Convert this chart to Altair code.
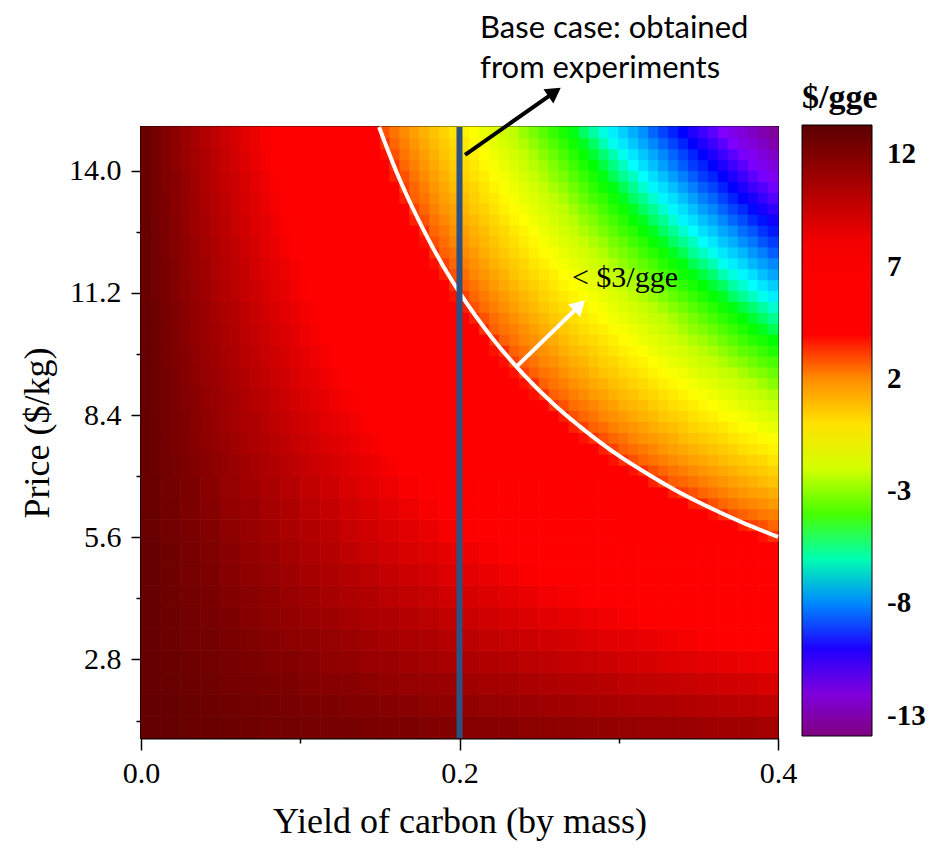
import altair as alt
import pandas as pd

# ---------------- data ----------------
# coarse cell edges of the cost map (whole plot)
X_EDGES = [0.0, 0.0125, 0.025, 0.0375, 0.05, 0.0625, 0.075, 0.0875, 0.1, 0.1125, 0.125,
           0.1375, 0.15, 0.1625, 0.175, 0.1875, 0.2, 0.2125, 0.225, 0.2375, 0.25, 0.2625,
           0.275, 0.2875, 0.3, 0.3125, 0.325, 0.3375, 0.35, 0.3625, 0.375, 0.3875, 0.4]
Y_EDGES = [1.0, 1.5, 2.0, 2.5, 3.0, 3.5, 4.0, 4.5, 5.0, 5.5, 6.0, 6.5, 7.0, 7.5, 8.0, 8.5,
           9.0, 9.5, 10.0, 10.5, 11.0, 11.5, 12.0, 12.5, 13.0, 13.5, 14.0, 14.5, 15.0]

# cost ($/gge), one row per price band (bottom row first), one value per yield band
Z = [
    [13.0,12.9,12.8,12.8,12.7,12.6,12.5,12.5,12.4,12.3,12.3,12.2,12.1,12.1,12.0,11.9,11.8,11.8,11.7,11.6,11.6,11.5,11.4,11.4,11.3,11.2,11.2,11.1,11.0,10.9,10.9,10.8],
    [13.0,12.9,12.8,12.7,12.6,12.5,12.4,12.3,12.2,12.1,12.0,11.9,11.8,11.7,11.6,11.5,11.4,11.3,11.2,11.1,11.0,10.9,10.8,10.7,10.6,10.5,10.4,10.3,10.2,10.1,10.0,9.9],
    [12.9,12.8,12.7,12.6,12.4,12.3,12.2,12.1,11.9,11.8,11.7,11.6,11.4,11.3,11.2,11.1,10.9,10.8,10.7,10.6,10.4,10.3,10.2,10.1,9.9,9.8,9.7,9.6,9.4,9.3,9.2,9.0],
    [12.9,12.8,12.6,12.5,12.3,12.2,12.0,11.9,11.7,11.5,11.4,11.2,11.1,10.9,10.8,10.6,10.5,10.3,10.2,10.0,9.9,9.7,9.6,9.4,9.2,9.1,8.9,8.8,8.6,8.5,8.3,8.2],
    [12.9,12.7,12.5,12.4,12.2,12.0,11.8,11.6,11.5,11.3,11.1,10.9,10.7,10.6,10.4,10.2,10.0,9.8,9.6,9.5,9.3,9.1,8.9,8.7,8.6,8.4,8.2,8.0,7.8,7.7,7.5,7.3],
    [12.9,12.7,12.5,12.3,12.1,11.8,11.6,11.4,11.2,11.0,10.8,10.6,10.4,10.2,10.0,9.8,9.5,9.3,9.1,8.9,8.7,8.5,8.3,8.1,7.9,7.7,7.5,7.2,7.0,6.8,6.6,6.4],
    [12.9,12.6,12.4,12.2,11.9,11.7,11.5,11.2,11.0,10.7,10.5,10.3,10.0,9.8,9.6,9.3,9.1,8.9,8.6,8.4,8.1,7.9,7.7,7.4,7.2,7.0,6.7,6.5,6.2,6.0,5.8,5.5],
    [12.9,12.6,12.3,12.1,11.8,11.5,11.3,11.0,10.7,10.5,10.2,10.0,9.7,9.4,9.2,8.9,8.6,8.4,8.1,7.8,7.6,7.3,7.0,6.8,6.5,6.2,6.0,5.7,5.5,5.2,4.9,4.7],
    [12.9,12.6,12.3,12.0,11.7,11.4,11.1,10.8,10.5,10.2,9.9,9.6,9.3,9.0,8.8,8.5,8.2,7.9,7.6,7.3,7.0,6.7,6.4,6.1,5.8,5.5,5.2,5.0,4.7,4.4,4.1,3.8],
    [12.8,12.5,12.2,11.9,11.6,11.2,10.9,10.6,10.3,10.0,9.6,9.3,9.0,8.7,8.4,8.0,7.7,7.4,7.1,6.7,6.4,6.1,5.8,5.5,5.1,4.8,4.5,4.2,3.9,3.5,3.2,2.9],
    [12.8,12.5,12.1,11.8,11.4,11.1,10.7,10.4,10.0,9.7,9.3,9.0,8.6,8.3,7.9,7.6,7.3,6.9,6.6,6.2,5.9,5.5,5.2,4.8,4.5,4.1,3.8,3.4,3.1,2.7,2.4,2.0],
    [12.8,12.4,12.1,11.7,11.3,10.9,10.6,10.2,9.8,9.4,9.0,8.7,8.3,7.9,7.5,7.2,6.8,6.4,6.0,5.7,5.3,4.9,4.5,4.2,3.8,3.4,3.0,2.7,2.3,1.9,1.5,1.1],
    [12.8,12.4,12.0,11.6,11.2,10.8,10.4,10.0,9.6,9.2,8.8,8.4,7.9,7.5,7.1,6.7,6.3,5.9,5.5,5.1,4.7,4.3,3.9,3.5,3.1,2.7,2.3,1.9,1.5,1.1,0.7,0.3],
    [12.8,12.4,11.9,11.5,11.1,10.6,10.2,9.8,9.3,8.9,8.5,8.0,7.6,7.2,6.7,6.3,5.9,5.4,5.0,4.6,4.1,3.7,3.3,2.8,2.4,2.0,1.5,1.1,0.7,0.3,-0.2,-0.6],
    [12.8,12.3,11.9,11.4,10.9,10.5,10.0,9.6,9.1,8.6,8.2,7.7,7.3,6.8,6.3,5.9,5.4,5.0,4.5,4.0,3.6,3.1,2.7,2.2,1.7,1.3,0.8,0.4,-0.1,-0.6,-1.0,-1.5],
    [12.8,12.3,11.8,11.3,10.8,10.3,9.8,9.3,8.9,8.4,7.9,7.4,6.9,6.4,5.9,5.4,5.0,4.5,4.0,3.5,3.0,2.5,2.0,1.5,1.0,0.6,0.1,-0.4,-0.9,-1.4,-1.9,-2.4],
    [12.7,12.2,11.7,11.2,10.7,10.2,9.6,9.1,8.6,8.1,7.6,7.1,6.6,6.0,5.5,5.0,4.5,4.0,3.5,2.9,2.4,1.9,1.4,0.9,0.4,-0.2,-0.7,-1.2,-1.7,-2.2,-2.7,-3.2],
    [12.7,12.2,11.6,11.1,10.6,10.0,9.5,8.9,8.4,7.8,7.3,6.7,6.2,5.7,5.1,4.6,4.0,3.5,2.9,2.4,1.9,1.3,0.8,0.2,-0.3,-0.9,-1.4,-1.9,-2.5,-3.0,-3.6,-4.1],
    [12.7,12.1,11.6,11.0,10.4,9.9,9.3,8.7,8.1,7.6,7.0,6.4,5.9,5.3,4.7,4.1,3.6,3.0,2.4,1.9,1.3,0.7,0.1,-0.4,-1.0,-1.6,-2.1,-2.7,-3.3,-3.9,-4.4,-5.0],
    [12.7,12.1,11.5,10.9,10.3,9.7,9.1,8.5,7.9,7.3,6.7,6.1,5.5,4.9,4.3,3.7,3.1,2.5,1.9,1.3,0.7,0.1,-0.5,-1.1,-1.7,-2.3,-2.9,-3.5,-4.1,-4.7,-5.3,-5.9],
    [12.7,12.1,11.4,10.8,10.2,9.6,8.9,8.3,7.7,7.0,6.4,5.8,5.2,4.5,3.9,3.3,2.7,2.0,1.4,0.8,0.1,-0.5,-1.1,-1.7,-2.4,-3.0,-3.6,-4.2,-4.9,-5.5,-6.1,-6.8],
    [12.7,12.0,11.4,10.7,10.1,9.4,8.7,8.1,7.4,6.8,6.1,5.5,4.8,4.2,3.5,2.8,2.2,1.5,0.9,0.2,-0.4,-1.1,-1.7,-2.4,-3.0,-3.7,-4.4,-5.0,-5.7,-6.3,-7.0,-7.6],
    [12.7,12.0,11.3,10.6,9.9,9.2,8.6,7.9,7.2,6.5,5.8,5.1,4.5,3.8,3.1,2.4,1.7,1.0,0.4,-0.3,-1.0,-1.7,-2.4,-3.0,-3.7,-4.4,-5.1,-5.8,-6.5,-7.1,-7.8,-8.5],
    [12.6,11.9,11.2,10.5,9.8,9.1,8.4,7.7,7.0,6.2,5.5,4.8,4.1,3.4,2.7,2.0,1.3,0.6,-0.1,-0.9,-1.6,-2.3,-3.0,-3.7,-4.4,-5.1,-5.8,-6.5,-7.3,-8.0,-8.7,-9.4],
    [12.6,11.9,11.2,10.4,9.7,8.9,8.2,7.5,6.7,6.0,5.2,4.5,3.8,3.0,2.3,1.6,0.8,0.1,-0.7,-1.4,-2.1,-2.9,-3.6,-4.4,-5.1,-5.8,-6.6,-7.3,-8.1,-8.8,-9.5,-10.3],
    [12.6,11.9,11.1,10.3,9.6,8.8,8.0,7.3,6.5,5.7,5.0,4.2,3.4,2.7,1.9,1.1,0.4,-0.4,-1.2,-1.9,-2.7,-3.5,-4.2,-5.0,-5.8,-6.5,-7.3,-8.1,-8.8,-9.6,-10.4,-11.1],
    [12.6,11.8,11.0,10.2,9.4,8.6,7.8,7.0,6.2,5.5,4.7,3.9,3.1,2.3,1.5,0.7,-0.1,-0.9,-1.7,-2.5,-3.3,-4.1,-4.9,-5.7,-6.5,-7.3,-8.1,-8.8,-9.6,-10.4,-11.2,-12.0],
    [12.6,11.8,10.9,10.1,9.3,8.5,7.7,6.8,6.0,5.2,4.4,3.5,2.7,1.9,1.1,0.3,-0.6,-1.4,-2.2,-3.0,-3.9,-4.7,-5.5,-6.3,-7.1,-8.0,-8.8,-9.6,-10.4,-11.3,-12.1,-12.9],
]

# finer reading of the rainbow corner (yield 0.15-0.40, price 7-15)
XF_EDGES = [0.15, 0.15625, 0.1625, 0.16875, 0.175, 0.18125, 0.1875, 0.19375, 0.2, 0.20625,
            0.2125, 0.21875, 0.225, 0.23125, 0.2375, 0.24375, 0.25, 0.25625, 0.2625, 0.26875,
            0.275, 0.28125, 0.2875, 0.29375, 0.3, 0.30625, 0.3125, 0.31875, 0.325, 0.33125,
            0.3375, 0.34375, 0.35, 0.35625, 0.3625, 0.36875, 0.375, 0.38125, 0.3875, 0.39375, 0.4]
YF_EDGES = [7.0, 7.25, 7.5, 7.75, 8.0, 8.25, 8.5, 8.75, 9.0, 9.25, 9.5, 9.75, 10.0, 10.25,
            10.5, 10.75, 11.0, 11.25, 11.5, 11.75, 12.0, 12.25, 12.5, 12.75, 13.0, 13.25,
            13.5, 13.75, 14.0, 14.25, 14.5, 14.75, 15.0]
ZF = [
    [8.1,7.9,7.7,7.5,7.3,7.1,6.9,6.7,6.5,6.3,6.1,5.9,5.8,5.6,5.4,5.2,5.0,4.8,4.6,4.4,4.2,4.0,3.8,3.6,3.4,3.2,3.0,2.8,2.6,2.4,2.2,2.0,1.8,1.6,1.4,1.2,1.0,0.8,0.6,0.4],
    [8.0,7.8,7.6,7.3,7.1,6.9,6.7,6.5,6.3,6.1,5.9,5.7,5.5,5.3,5.1,4.9,4.7,4.5,4.3,4.1,3.9,3.6,3.4,3.2,3.0,2.8,2.6,2.4,2.2,2.0,1.8,1.6,1.4,1.2,1.0,0.8,0.6,0.4,0.2,-0.1],
    [7.8,7.6,7.4,7.2,6.9,6.7,6.5,6.3,6.1,5.9,5.7,5.5,5.2,5.0,4.8,4.6,4.4,4.2,4.0,3.8,3.5,3.3,3.1,2.9,2.7,2.5,2.3,2.1,1.8,1.6,1.4,1.2,1.0,0.8,0.6,0.4,0.1,-0.1,-0.3,-0.5],
    [7.6,7.4,7.2,7.0,6.7,6.5,6.3,6.1,5.9,5.6,5.4,5.2,5.0,4.8,4.5,4.3,4.1,3.9,3.7,3.5,3.2,3.0,2.8,2.6,2.4,2.1,1.9,1.7,1.5,1.3,1.0,0.8,0.6,0.4,0.2,-0.1,-0.3,-0.5,-0.7,-0.9],
    [7.5,7.2,7.0,6.8,6.5,6.3,6.1,5.9,5.6,5.4,5.2,5.0,4.7,4.5,4.3,4.1,3.8,3.6,3.4,3.1,2.9,2.7,2.5,2.2,2.0,1.8,1.6,1.3,1.1,0.9,0.7,0.4,0.2,0.0,-0.2,-0.5,-0.7,-0.9,-1.2,-1.4],
    [7.3,7.0,6.8,6.6,6.3,6.1,5.9,5.6,5.4,5.2,4.9,4.7,4.5,4.2,4.0,3.8,3.5,3.3,3.1,2.8,2.6,2.4,2.1,1.9,1.7,1.4,1.2,1.0,0.7,0.5,0.3,0.0,-0.2,-0.4,-0.7,-0.9,-1.1,-1.4,-1.6,-1.8],
    [7.1,6.9,6.6,6.4,6.1,5.9,5.7,5.4,5.2,4.9,4.7,4.5,4.2,4.0,3.7,3.5,3.3,3.0,2.8,2.5,2.3,2.1,1.8,1.6,1.3,1.1,0.9,0.6,0.4,0.1,-0.1,-0.3,-0.6,-0.8,-1.1,-1.3,-1.5,-1.8,-2.0,-2.3],
    [6.9,6.7,6.4,6.2,5.9,5.7,5.5,5.2,5.0,4.7,4.5,4.2,4.0,3.7,3.5,3.2,3.0,2.7,2.5,2.2,2.0,1.7,1.5,1.2,1.0,0.8,0.5,0.3,0.0,-0.2,-0.5,-0.7,-1.0,-1.2,-1.5,-1.7,-2.0,-2.2,-2.5,-2.7],
    [6.8,6.5,6.3,6.0,5.8,5.5,5.2,5.0,4.7,4.5,4.2,4.0,3.7,3.5,3.2,3.0,2.7,2.4,2.2,1.9,1.7,1.4,1.2,0.9,0.7,0.4,0.2,-0.1,-0.4,-0.6,-0.9,-1.1,-1.4,-1.6,-1.9,-2.1,-2.4,-2.6,-2.9,-3.2],
    [6.6,6.3,6.1,5.8,5.6,5.3,5.0,4.8,4.5,4.2,4.0,3.7,3.5,3.2,2.9,2.7,2.4,2.2,1.9,1.6,1.4,1.1,0.8,0.6,0.3,0.1,-0.2,-0.5,-0.7,-1.0,-1.2,-1.5,-1.8,-2.0,-2.3,-2.5,-2.8,-3.1,-3.3,-3.6],
    [6.4,6.2,5.9,5.6,5.4,5.1,4.8,4.5,4.3,4.0,3.7,3.5,3.2,2.9,2.7,2.4,2.1,1.9,1.6,1.3,1.1,0.8,0.5,0.3,0.0,-0.3,-0.5,-0.8,-1.1,-1.4,-1.6,-1.9,-2.2,-2.4,-2.7,-3.0,-3.2,-3.5,-3.8,-4.0],
    [6.3,6.0,5.7,5.4,5.2,4.9,4.6,4.3,4.1,3.8,3.5,3.2,3.0,2.7,2.4,2.1,1.9,1.6,1.3,1.0,0.8,0.5,0.2,-0.1,-0.4,-0.6,-0.9,-1.2,-1.5,-1.7,-2.0,-2.3,-2.6,-2.8,-3.1,-3.4,-3.7,-3.9,-4.2,-4.5],
    [6.1,5.8,5.5,5.2,5.0,4.7,4.4,4.1,3.8,3.5,3.3,3.0,2.7,2.4,2.1,1.9,1.6,1.3,1.0,0.7,0.4,0.2,-0.1,-0.4,-0.7,-1.0,-1.3,-1.5,-1.8,-2.1,-2.4,-2.7,-2.9,-3.2,-3.5,-3.8,-4.1,-4.4,-4.6,-4.9],
    [5.9,5.6,5.3,5.0,4.8,4.5,4.2,3.9,3.6,3.3,3.0,2.7,2.4,2.2,1.9,1.6,1.3,1.0,0.7,0.4,0.1,-0.2,-0.4,-0.7,-1.0,-1.3,-1.6,-1.9,-2.2,-2.5,-2.8,-3.1,-3.3,-3.6,-3.9,-4.2,-4.5,-4.8,-5.1,-5.4],
    [5.7,5.4,5.2,4.9,4.6,4.3,4.0,3.7,3.4,3.1,2.8,2.5,2.2,1.9,1.6,1.3,1.0,0.7,0.4,0.1,-0.2,-0.5,-0.8,-1.1,-1.4,-1.7,-2.0,-2.3,-2.5,-2.8,-3.1,-3.4,-3.7,-4.0,-4.3,-4.6,-4.9,-5.2,-5.5,-5.8],
    [5.6,5.3,5.0,4.7,4.4,4.1,3.8,3.5,3.1,2.8,2.5,2.2,1.9,1.6,1.3,1.0,0.7,0.4,0.1,-0.2,-0.5,-0.8,-1.1,-1.4,-1.7,-2.0,-2.3,-2.6,-2.9,-3.2,-3.5,-3.8,-4.1,-4.4,-4.7,-5.0,-5.3,-5.6,-5.9,-6.2],
    [5.4,5.1,4.8,4.5,4.2,3.9,3.5,3.2,2.9,2.6,2.3,2.0,1.7,1.4,1.1,0.8,0.4,0.1,-0.2,-0.5,-0.8,-1.1,-1.4,-1.7,-2.0,-2.4,-2.7,-3.0,-3.3,-3.6,-3.9,-4.2,-4.5,-4.8,-5.1,-5.5,-5.8,-6.1,-6.4,-6.7],
    [5.2,4.9,4.6,4.3,4.0,3.6,3.3,3.0,2.7,2.4,2.1,1.7,1.4,1.1,0.8,0.5,0.2,-0.2,-0.5,-0.8,-1.1,-1.4,-1.7,-2.1,-2.4,-2.7,-3.0,-3.3,-3.6,-4.0,-4.3,-4.6,-4.9,-5.2,-5.5,-5.9,-6.2,-6.5,-6.8,-7.1],
    [5.1,4.7,4.4,4.1,3.8,3.4,3.1,2.8,2.5,2.1,1.8,1.5,1.2,0.8,0.5,0.2,-0.1,-0.4,-0.8,-1.1,-1.4,-1.7,-2.1,-2.4,-2.7,-3.0,-3.4,-3.7,-4.0,-4.3,-4.7,-5.0,-5.3,-5.6,-6.0,-6.3,-6.6,-6.9,-7.3,-7.6],
    [4.9,4.6,4.2,3.9,3.6,3.2,2.9,2.6,2.2,1.9,1.6,1.2,0.9,0.6,0.3,-0.1,-0.4,-0.7,-1.1,-1.4,-1.7,-2.1,-2.4,-2.7,-3.1,-3.4,-3.7,-4.0,-4.4,-4.7,-5.0,-5.4,-5.7,-6.0,-6.4,-6.7,-7.0,-7.4,-7.7,-8.0],
    [4.7,4.4,4.0,3.7,3.4,3.0,2.7,2.4,2.0,1.7,1.3,1.0,0.7,0.3,0.0,-0.4,-0.7,-1.0,-1.4,-1.7,-2.0,-2.4,-2.7,-3.1,-3.4,-3.7,-4.1,-4.4,-4.7,-5.1,-5.4,-5.8,-6.1,-6.4,-6.8,-7.1,-7.4,-7.8,-8.1,-8.5],
    [4.5,4.2,3.9,3.5,3.2,2.8,2.5,2.1,1.8,1.4,1.1,0.8,0.4,0.1,-0.3,-0.6,-1.0,-1.3,-1.7,-2.0,-2.3,-2.7,-3.0,-3.4,-3.7,-4.1,-4.4,-4.8,-5.1,-5.5,-5.8,-6.1,-6.5,-6.8,-7.2,-7.5,-7.9,-8.2,-8.6,-8.9],
    [4.4,4.0,3.7,3.3,3.0,2.6,2.3,1.9,1.6,1.2,0.9,0.5,0.2,-0.2,-0.5,-0.9,-1.3,-1.6,-2.0,-2.3,-2.7,-3.0,-3.4,-3.7,-4.1,-4.4,-4.8,-5.1,-5.5,-5.8,-6.2,-6.5,-6.9,-7.2,-7.6,-7.9,-8.3,-8.6,-9.0,-9.3],
    [4.2,3.8,3.5,3.1,2.8,2.4,2.1,1.7,1.3,1.0,0.6,0.3,-0.1,-0.5,-0.8,-1.2,-1.5,-1.9,-2.3,-2.6,-3.0,-3.3,-3.7,-4.0,-4.4,-4.8,-5.1,-5.5,-5.8,-6.2,-6.6,-6.9,-7.3,-7.6,-8.0,-8.4,-8.7,-9.1,-9.4,-9.8],
    [4.0,3.7,3.3,2.9,2.6,2.2,1.8,1.5,1.1,0.7,0.4,0.0,-0.4,-0.7,-1.1,-1.5,-1.8,-2.2,-2.5,-2.9,-3.3,-3.6,-4.0,-4.4,-4.7,-5.1,-5.5,-5.8,-6.2,-6.6,-6.9,-7.3,-7.7,-8.0,-8.4,-8.8,-9.1,-9.5,-9.9,-10.2],
    [3.9,3.5,3.1,2.7,2.4,2.0,1.6,1.3,0.9,0.5,0.1,-0.2,-0.6,-1.0,-1.4,-1.7,-2.1,-2.5,-2.8,-3.2,-3.6,-4.0,-4.3,-4.7,-5.1,-5.5,-5.8,-6.2,-6.6,-6.9,-7.3,-7.7,-8.1,-8.4,-8.8,-9.2,-9.6,-9.9,-10.3,-10.7],
    [3.7,3.3,2.9,2.6,2.2,1.8,1.4,1.0,0.7,0.3,-0.1,-0.5,-0.9,-1.2,-1.6,-2.0,-2.4,-2.8,-3.1,-3.5,-3.9,-4.3,-4.7,-5.0,-5.4,-5.8,-6.2,-6.6,-6.9,-7.3,-7.7,-8.1,-8.5,-8.8,-9.2,-9.6,-10.0,-10.4,-10.7,-11.1],
    [3.5,3.1,2.8,2.4,2.0,1.6,1.2,0.8,0.4,0.0,-0.3,-0.7,-1.1,-1.5,-1.9,-2.3,-2.7,-3.1,-3.4,-3.8,-4.2,-4.6,-5.0,-5.4,-5.8,-6.1,-6.5,-6.9,-7.3,-7.7,-8.1,-8.5,-8.9,-9.2,-9.6,-10.0,-10.4,-10.8,-11.2,-11.6],
    [3.4,3.0,2.6,2.2,1.8,1.4,1.0,0.6,0.2,-0.2,-0.6,-1.0,-1.4,-1.8,-2.2,-2.6,-2.9,-3.3,-3.7,-4.1,-4.5,-4.9,-5.3,-5.7,-6.1,-6.5,-6.9,-7.3,-7.7,-8.1,-8.5,-8.9,-9.2,-9.6,-10.0,-10.4,-10.8,-11.2,-11.6,-12.0],
    [3.2,2.8,2.4,2.0,1.6,1.2,0.8,0.4,0.0,-0.4,-0.8,-1.2,-1.6,-2.0,-2.4,-2.8,-3.2,-3.6,-4.0,-4.4,-4.8,-5.2,-5.6,-6.0,-6.4,-6.8,-7.2,-7.6,-8.0,-8.4,-8.8,-9.2,-9.6,-10.0,-10.4,-10.8,-11.2,-11.6,-12.0,-12.4],
    [3.0,2.6,2.2,1.8,1.4,1.0,0.6,0.2,-0.2,-0.7,-1.1,-1.5,-1.9,-2.3,-2.7,-3.1,-3.5,-3.9,-4.3,-4.7,-5.1,-5.5,-6.0,-6.4,-6.8,-7.2,-7.6,-8.0,-8.4,-8.8,-9.2,-9.6,-10.0,-10.4,-10.8,-11.3,-11.7,-12.1,-12.5,-12.9],
    [2.8,2.4,2.0,1.6,1.2,0.8,0.4,-0.1,-0.5,-0.9,-1.3,-1.7,-2.1,-2.5,-3.0,-3.4,-3.8,-4.2,-4.6,-5.0,-5.5,-5.9,-6.3,-6.7,-7.1,-7.5,-7.9,-8.4,-8.8,-9.2,-9.6,-10.0,-10.4,-10.8,-11.3,-11.7,-12.1,-12.5,-12.9,-13.3],
]

# finer reading of the orange strip at the right edge (yield 0.30-0.40, price 5.5-7)
XF2_EDGES = [0.3, 0.30625, 0.3125, 0.31875, 0.325, 0.33125, 0.3375, 0.34375, 0.35, 0.35625,
             0.3625, 0.36875, 0.375, 0.38125, 0.3875, 0.39375, 0.4]
YF2_EDGES = [5.5, 5.75, 6.0, 6.25, 6.5, 6.75, 7.0]
ZF2 = [
    [5.4,5.2,5.1,4.9,4.8,4.6,4.5,4.3,4.1,4.0,3.8,3.7,3.5,3.4,3.2,3.0],
    [5.1,4.9,4.7,4.6,4.4,4.2,4.1,3.9,3.7,3.6,3.4,3.3,3.1,2.9,2.8,2.6],
    [4.7,4.5,4.4,4.2,4.0,3.9,3.7,3.5,3.4,3.2,3.0,2.8,2.7,2.5,2.3,2.2],
    [4.4,4.2,4.0,3.8,3.7,3.5,3.3,3.1,3.0,2.8,2.6,2.4,2.2,2.1,1.9,1.7],
    [4.0,3.9,3.7,3.5,3.3,3.1,2.9,2.8,2.6,2.4,2.2,2.0,1.8,1.6,1.5,1.3],
    [3.7,3.5,3.3,3.1,2.9,2.7,2.6,2.4,2.2,2.0,1.8,1.6,1.4,1.2,1.0,0.8],
]

# finer reading (in yield) of the dark-red upper left (yield 0-0.15, price 7-15)
XF3_EDGES = [0.0, 0.00625, 0.0125, 0.01875, 0.025, 0.03125, 0.0375, 0.04375, 0.05, 0.05625,
             0.0625, 0.06875, 0.075, 0.08125, 0.0875, 0.09375, 0.1, 0.10625, 0.1125, 0.11875,
             0.125, 0.13125, 0.1375, 0.14375, 0.15]
YF3_EDGES = [7.0, 7.5, 8.0, 8.5, 9.0, 9.5, 10.0, 10.5, 11.0, 11.5, 12.0, 12.5, 13.0, 13.5,
             14.0, 14.5, 15.0]
ZF3 = [
    [12.9,12.7,12.5,12.3,12.1,11.9,11.7,11.5,11.3,11.1,10.9,10.7,10.5,10.3,10.1,9.9,9.7,9.5,9.3,9.1,8.9,8.7,8.5,8.3],
    [12.9,12.7,12.5,12.2,12.0,11.8,11.6,11.4,11.2,10.9,10.7,10.5,10.3,10.1,9.9,9.7,9.4,9.2,9.0,8.8,8.6,8.4,8.1,7.9],
    [12.9,12.7,12.4,12.2,12.0,11.7,11.5,11.3,11.0,10.8,10.6,10.4,10.1,9.9,9.7,9.4,9.2,9.0,8.7,8.5,8.3,8.1,7.8,7.6],
    [12.9,12.6,12.4,12.1,11.9,11.7,11.4,11.2,10.9,10.7,10.4,10.2,10.0,9.7,9.5,9.2,9.0,8.7,8.5,8.2,8.0,7.8,7.5,7.3],
    [12.9,12.6,12.4,12.1,11.8,11.6,11.3,11.1,10.8,10.6,10.3,10.0,9.8,9.5,9.3,9.0,8.7,8.5,8.2,8.0,7.7,7.5,7.2,6.9],
    [12.9,12.6,12.3,12.0,11.8,11.5,11.2,11.0,10.7,10.4,10.1,9.9,9.6,9.3,9.1,8.8,8.5,8.2,8.0,7.7,7.4,7.2,6.9,6.6],
    [12.9,12.6,12.3,12.0,11.7,11.4,11.1,10.9,10.6,10.3,10.0,9.7,9.4,9.1,8.9,8.6,8.3,8.0,7.7,7.4,7.1,6.9,6.6,6.3],
    [12.9,12.6,12.3,12.0,11.7,11.4,11.1,10.8,10.5,10.2,9.9,9.6,9.3,9.0,8.7,8.4,8.1,7.8,7.5,7.2,6.9,6.6,6.3,6.0],
    [12.8,12.5,12.2,11.9,11.6,11.3,11.0,10.6,10.3,10.0,9.7,9.4,9.1,8.8,8.5,8.1,7.8,7.5,7.2,6.9,6.6,6.3,5.9,5.6],
    [12.8,12.5,12.2,11.9,11.5,11.2,10.9,10.5,10.2,9.9,9.6,9.2,8.9,8.6,8.3,7.9,7.6,7.3,6.9,6.6,6.3,6.0,5.6,5.3],
    [12.8,12.5,12.1,11.8,11.5,11.1,10.8,10.4,10.1,9.8,9.4,9.1,8.7,8.4,8.0,7.7,7.4,7.0,6.7,6.3,6.0,5.7,5.3,5.0],
    [12.8,12.5,12.1,11.8,11.4,11.0,10.7,10.3,10.0,9.6,9.3,8.9,8.6,8.2,7.8,7.5,7.1,6.8,6.4,6.1,5.7,5.4,5.0,4.6],
    [12.8,12.4,12.1,11.7,11.3,11.0,10.6,10.2,9.9,9.5,9.1,8.8,8.4,8.0,7.6,7.3,6.9,6.5,6.2,5.8,5.4,5.1,4.7,4.3],
    [12.8,12.4,12.0,11.7,11.3,10.9,10.5,10.1,9.7,9.4,9.0,8.6,8.2,7.8,7.4,7.1,6.7,6.3,5.9,5.5,5.1,4.8,4.4,4.0],
    [12.8,12.4,12.0,11.6,11.2,10.8,10.4,10.0,9.6,9.2,8.8,8.4,8.0,7.6,7.2,6.8,6.4,6.0,5.7,5.3,4.9,4.5,4.1,3.7],
    [12.8,12.4,12.0,11.6,11.1,10.7,10.3,9.9,9.5,9.1,8.7,8.3,7.9,7.4,7.0,6.6,6.2,5.8,5.4,5.0,4.6,4.2,3.7,3.3],
]

# white $3/gge contour
CONTOUR_X = [0.1495, 0.16, 0.17, 0.18, 0.19, 0.20, 0.22, 0.24, 0.26, 0.28, 0.30, 0.32, 0.34, 0.36, 0.38, 0.40]
CONTOUR_Y = [15.0, 14.01, 13.19, 12.46, 11.80, 11.21, 10.19, 9.34, 8.62, 8.01, 7.47, 7.01, 6.59, 6.23, 5.90, 5.61]

BASE_CASE_YIELD = [0.2]

# colour bar ($/gge) and its colours
CB_VALUES = [-13.9, -11.3, -9.6, -7.9, -6.5, -5.7, -4.9, -2.5, -0.8, 0.8, 2.0, 2.7, 3.3, 7.7, 13.3]
CB_COLORS = ["#800080", "#7f00ff", "#0000ff", "#0090ff", "#00ffff", "#00ff80", "#00ff00",
             "#c0ff00", "#ffff00", "#ffc400", "#ff8c00", "#ff6000", "#ff0000", "#ff0000", "#5a0000"]
CB_LABELS = [12, 7, 2, -3, -8, -13]

X_TICKS = [0.0, 0.1, 0.2, 0.3, 0.4]
X_LABELLED = [0.0, 0.2, 0.4]
Y_TICKS = [1.4, 2.8, 4.2, 5.6, 7.0, 8.4, 9.8, 11.2, 12.6, 14.0]
Y_LABELLED = [2.8, 5.6, 8.4, 11.2, 14.0]

# ---------------- styling ----------------
SERIF = "Liberation Serif"
W, H = 637, 611


def grid(xe, ye, zz):
    out = []
    for j, zrow in enumerate(zz):
        for i, v in enumerate(zrow):
            out.append({"x": xe[i], "x2": xe[i + 1], "y": ye[j], "y2": ye[j + 1], "v": v})
    return pd.DataFrame(out)


def lst(vals):
    return "[" + ",".join(repr(v) for v in vals) + "]"


x_minor = f"indexof({lst(X_LABELLED)}, datum.value) < 0"
y_minor = f"indexof({lst(Y_LABELLED)}, datum.value) < 0"

axis_common = dict(grid=False, domainColor="black", domainWidth=2, tickColor="black",
                   tickWidth=1.5, labelFont=SERIF, labelFontSize=30, labelColor="black",
                   titleFont=SERIF, titleFontSize=36, titleFontWeight="normal",
                   titleColor="black", labelFlush=False, labelOverlap=False)

XAXIS = alt.Axis(values=X_TICKS,
                 labelExpr=f"{x_minor} ? '' : format(datum.value, '.1f')",
                 tickSize={"condition": {"test": x_minor, "value": 5}, "value": 12},
                 labelPadding=8, titlePadding=16, **axis_common)
YAXIS = alt.Axis(values=Y_TICKS,
                 labelExpr=f"{y_minor} ? '' : format(datum.value, '.1f')",
                 tickSize={"condition": {"test": y_minor, "value": 5}, "value": 10},
                 labelPadding=10, titlePadding=12, **axis_common)

XS = alt.Scale(domain=[0, 0.4], nice=False, zero=False)
YS = alt.Scale(domain=[1, 15], nice=False, zero=False)
XT = "Yield of carbon (by mass)"
YT = "Price ($/kg)"


def X(f="x"):
    return alt.X(f"{f}:Q", scale=XS, axis=XAXIS, title=XT)


def Y(f="y"):
    return alt.Y(f"{f}:Q", scale=YS, axis=YAXIS, title=YT)


CSCALE = alt.Scale(domain=CB_VALUES, range=CB_COLORS, interpolate="rgb", clamp=True)
LEGEND = alt.Legend(
    type="gradient", title="$/gge", orient="none", legendX=661, legendY=-46,
    direction="vertical", gradientLength=H, gradientThickness=70, values=CB_LABELS,
    labelExpr="(datum.value < 0 ? '-' : '') + abs(datum.value)",
    labelFont=SERIF, labelFontSize=29, labelFontWeight="bold",
    labelColor="black", labelOffset=15, labelOverlap=False, titleFont=SERIF,
    titleFontSize=34, titleFontWeight="bold", titleColor="black", titlePadding=10,
    padding=0, gradientStrokeColor="black", gradientStrokeWidth=1)

SEAM = {"expr": "scale('color', datum.v)"}


def heat_layer(df):
    return alt.Chart(df).mark_rect(stroke=SEAM, strokeWidth=0.8).encode(
        x=X(), x2="x2:Q", y=Y(), y2="y2:Q",
        color=alt.Color("v:Q", scale=CSCALE, legend=LEGEND))


layers = [heat_layer(grid(X_EDGES, Y_EDGES, Z)),
          heat_layer(grid(XF_EDGES, YF_EDGES, ZF)),
          heat_layer(grid(XF2_EDGES, YF2_EDGES, ZF2)),
          heat_layer(grid(XF3_EDGES, YF3_EDGES, ZF3))]

layers.append(alt.Chart(pd.DataFrame({"x": CONTOUR_X, "y": CONTOUR_Y})).mark_line(
    color="white", strokeWidth=4, interpolate="monotone").encode(x=X(), y=Y()))

layers.append(alt.Chart(pd.DataFrame({"x": BASE_CASE_YIELD})).mark_rule(
    color="#2b5282", strokeWidth=6).encode(x=X()))

# arrows: start, head centre, head angle, colour
ARROWS = [
    dict(x=0.2035, y=14.36, x2=0.2597, y2=15.80, angle=55, color="black"),
    dict(x=0.2361, y=9.52, x2=0.2754, y2=10.91, angle=46, color="white"),
]
for a in ARROWS:
    d = pd.DataFrame([a])
    layers.append(alt.Chart(d).mark_rule(color=a["color"], strokeWidth=4).encode(
        x=X(), y=Y(), x2="x2:Q", y2="y2:Q"))
    layers.append(alt.Chart(d).mark_point(shape="triangle-up", filled=True, size=300,
                                          color=a["color"], opacity=1,
                                          angle=a["angle"]).encode(x=X("x2"), y=Y("y2")))

notes = pd.DataFrame({"x": [0.2129, 0.2129], "y": [17.246, 16.329],
                      "t": ["Base case: obtained", "from experiments"]})
layers.append(alt.Chart(notes).mark_text(align="left", baseline="middle", font="Lato",
                                         fontSize=31, color="black").encode(
    x=X(), y=Y(), text="t:N"))

lab = pd.DataFrame({"x": [0.3039], "y": [11.54], "t": ["< $3/gge"]})
layers.append(alt.Chart(lab).mark_text(align="center", baseline="middle", font=SERIF,
                                       fontSize=30, color="black").encode(
    x=X(), y=Y(), text="t:N"))

chart = alt.layer(*layers).properties(
    width=W, height=H,
    autosize=alt.AutoSizeParams(type="none"),
    padding={"left": 133, "top": 119, "right": 149, "bottom": 105},
    background="white",
).configure_view(stroke="black", strokeWidth=2)

chart.save("out.html", embed_options={"renderer": "svg", "actions": False})
